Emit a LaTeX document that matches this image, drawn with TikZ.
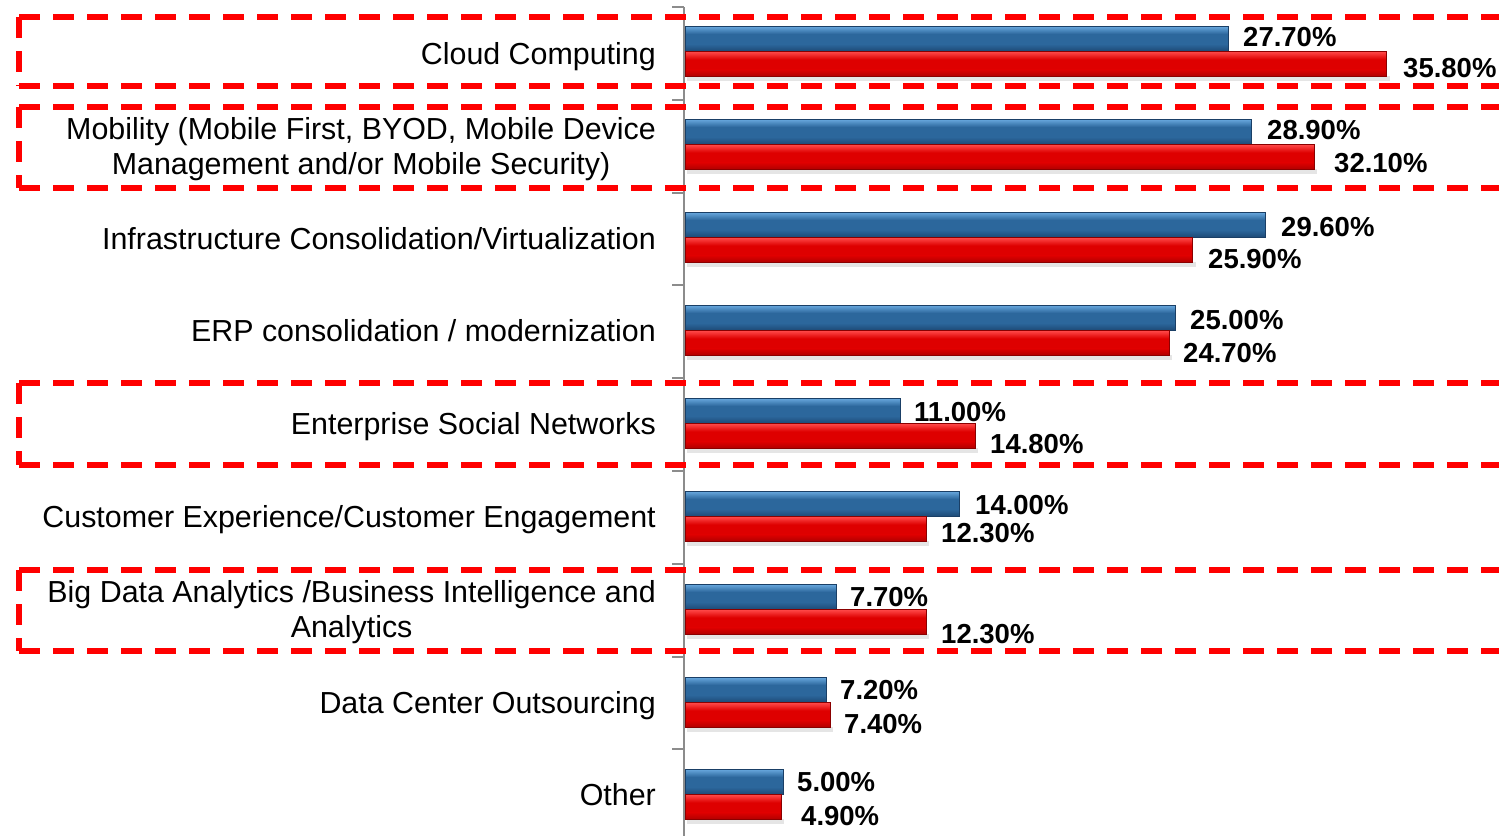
\documentclass[tikz,border=0pt]{standalone}
\usepackage{fontspec}
\setmainfont{Liberation Sans}
\definecolor{bTop}{HTML}{6AAAE0}
\definecolor{bMid}{HTML}{2C679C}
\definecolor{bBot}{HTML}{1E4B78}
\definecolor{bEdge}{HTML}{1A3F66}
\definecolor{rTop}{HTML}{FF4A4A}
\definecolor{rMid}{HTML}{DE0000}
\definecolor{rBot}{HTML}{B00000}
\definecolor{rEdge}{HTML}{8A0000}
\definecolor{hlred}{HTML}{FF0000}
\newcommand\barpair[3]{%
  \fill[black!10] (687,#1+25) rectangle ({685+#3*19.6+3},#1+30);
  % blue
  \fill[bMid] (685,#1-25) rectangle ({685+#2*19.6},#1);
  \fill[top color=bTop,bottom color=bMid] (685,#1-25) rectangle ({685+#2*19.6},#1-17);
  \fill[top color=bMid,bottom color=bBot] (685,#1-7) rectangle ({685+#2*19.6},#1);
  \draw[bEdge,line width=0.8pt] (685,#1-25) rectangle ({685+#2*19.6},#1);
  % red
  \fill[rMid] (685,#1+0.5) rectangle ({685+#3*19.6},#1+25.5);
  \fill[top color=rTop,bottom color=rMid] (685,#1+0.5) rectangle ({685+#3*19.6},#1+8.5);
  \fill[top color=rMid,bottom color=rBot] (685,#1+18.5) rectangle ({685+#3*19.6},#1+25.5);
  \draw[rEdge,line width=0.8pt] (685,#1+0.5) rectangle ({685+#3*19.6},#1+25.5);
}
\newcommand\hlframe[2]{%
  \draw[hlbox] (19,#1) -- (1499,#1);
  \draw[hlbox] (19,#2) -- (1499,#2);
  \draw[hlbox] (19,#1) -- (19,#2);
}
\begin{document}
\begin{tikzpicture}[x=1pt,y=-1pt,
  catlabel/.style={inner sep=0pt,font=\fontsize{30.4}{35}\selectfont,align=center,text=black},
  vallabel/.style={inner sep=0pt,anchor=base west,font=\fontsize{27.5}{30}\selectfont\bfseries,text=black},
  axisline/.style={draw=black!45,line width=2pt},
  hlbox/.style={draw=hlred,line width=5.5pt,dash pattern=on 21pt off 13pt}
]
\useasboundingbox (0,0) rectangle (1499,836);

% axis
\draw[axisline] (684,7) -- (684,836);
\foreach \t in {7,99.8,192.6,285.4,378.2,471,563.8,656.6,749.4}
  \draw[axisline] (672,\t) -- (684,\t);

% bars
\barpair{51}{27.7}{35.8}
\barpair{144}{28.9}{32.1}
\barpair{237}{29.6}{25.9}
\barpair{330}{25.0}{24.7}
\barpair{423}{11.0}{14.8}
\barpair{516}{14.0}{12.3}
\barpair{609}{7.7}{12.3}
\barpair{702}{7.2}{7.4}
\barpair{794}{5.0}{4.9}

% value labels
\node[vallabel] (v1b) at (1243,46) {27.70\%};
\node[vallabel] (v1r) at (1403,77) {35.80\%};
\node[vallabel] (v2b) at (1267,139) {28.90\%};
\node[vallabel] (v2r) at (1334,172) {32.10\%};
\node[vallabel] (v3b) at (1281,236) {29.60\%};
\node[vallabel] (v3r) at (1208,268) {25.90\%};
\node[vallabel] (v4b) at (1190,329) {25.00\%};
\node[vallabel] (v4r) at (1183,362) {24.70\%};
\node[vallabel] (v5b) at (914,421) {11.00\%};
\node[vallabel] (v5r) at (990,453) {14.80\%};
\node[vallabel] (v6b) at (975,514) {14.00\%};
\node[vallabel] (v6r) at (941,542) {12.30\%};
\node[vallabel] (v7b) at (850,606) {7.70\%};
\node[vallabel] (v7r) at (941,643) {12.30\%};
\node[vallabel] (v8b) at (840,699) {7.20\%};
\node[vallabel] (v8r) at (844,733) {7.40\%};
\node[vallabel] (v9b) at (797,791) {5.00\%};
\node[vallabel] (v9r) at (801,825) {4.90\%};

% category labels
\node[catlabel,anchor=base east] (c1) at (656,64) {Cloud Computing};
\node[catlabel,anchor=east] (c2) at (656,149) {Mobility (Mobile First, BYOD, Mobile Device\\Management and/or Mobile Security)};
\node[catlabel,anchor=base east] (c3) at (656,249) {Infrastructure Consolidation/Virtualization};
\node[catlabel,anchor=base east] (c4) at (656,341) {ERP consolidation / modernization};
\node[catlabel,anchor=base east] (c5) at (656,434) {Enterprise Social Networks};
\node[catlabel,anchor=base east] (c6) at (656,527) {Customer Experience/Customer Engagement};
\node[catlabel,anchor=east] (c7) at (656,612) {Big Data Analytics /Business Intelligence and\\Analytics};
\node[catlabel,anchor=base east] (c8) at (656,713) {Data Center Outsourcing};
\node[catlabel,anchor=base east] (c9) at (656,805) {Other};

% highlight boxes (open on the right)
\hlframe{17}{86}
\hlframe{107}{188}
\hlframe{383}{465}
\hlframe{570}{651}
\end{tikzpicture}
\end{document}
